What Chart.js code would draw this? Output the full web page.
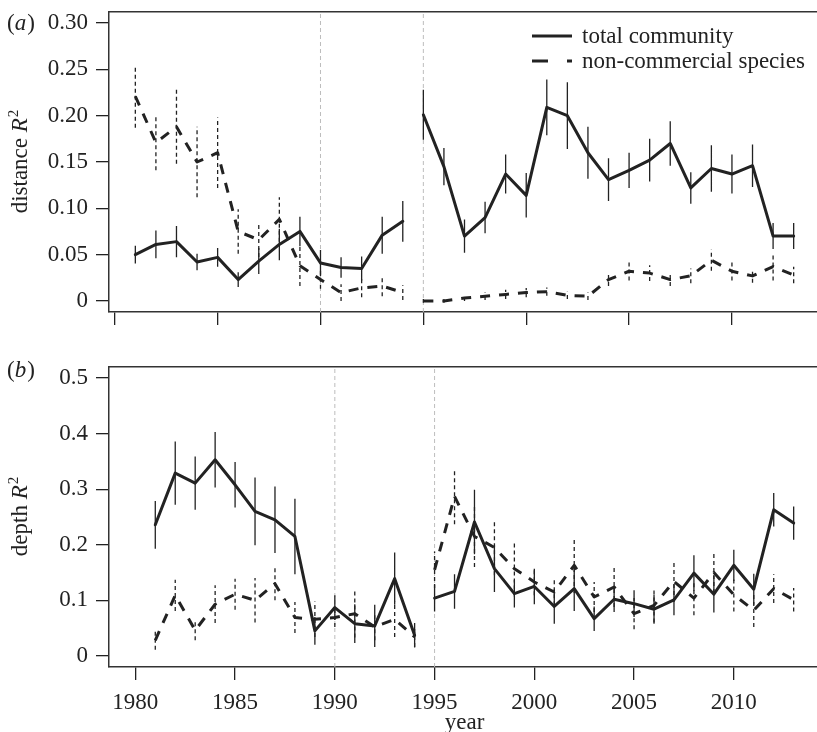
<!DOCTYPE html>
<html>
<head>
<meta charset="utf-8">
<script src="https://cdn.jsdelivr.net/npm/chart.js@4.4.1/dist/chart.umd.min.js"></script>
<style>
  html, body { margin: 0; padding: 0; background: #fff; overflow: hidden; width: 817px; height: 732px; }
  #cA { position: absolute; left: 0; top: 0; }
  #cB { position: absolute; left: 0; top: 340px; }
</style>
</head>
<body>
<canvas id="cA" width="820" height="326"></canvas>
<canvas id="cB" width="820" height="394"></canvas>
<script>
// ---------------- data ----------------
const years = [1981,1982,1983,1984,1985,1986,1987,1988,1989,1990,1991,1992,1993,1994,
               1995,1996,1997,1998,1999,2000,2001,2002,2003,2004,2005,2006,2007,2008,2009,2010,2011,2012,2013];
const breakYear = 1995;          // series are not joined across this year
const refYears = [1990, 1995];   // grey dashed reference lines
const seriesLabels = ['total community', 'non-commercial species'];
const xTitle = 'year';

// (a) distance R^2
const distTotal    = [0.050,0.061,0.064,0.042,0.047,0.023,0.043,0.061,0.075,0.041,0.036,0.035,0.071,0.086,
                      0.201,0.145,0.070,0.090,0.137,0.114,0.209,0.200,0.160,0.131,0.141,0.152,0.170,0.122,0.143,0.137,0.146,0.070,0.070];
const distTotalErr = [0.0095,0.015,0.017,0.009,0.010,0.008,0.014,0.017,0.016,0.014,0.011,0.013,0.020,0.022,
                      0.027,0.020,0.018,0.017,0.021,0.024,0.030,0.036,0.028,0.023,0.019,0.023,0.024,0.017,0.025,0.021,0.023,0.014,0.014];
const distNonCom    = [0.221,0.171,0.188,0.150,0.160,0.075,0.066,0.088,0.038,0.023,0.009,0.014,0.016,0.009,
                       0.000,0.000,0.003,0.005,0.007,0.009,0.010,0.006,0.005,0.023,0.032,0.030,0.023,0.027,0.044,0.032,0.027,0.037,0.028];
const distNonComErr = [0.034,0.030,0.040,0.038,0.038,0.024,0.0185,0.024,0.022,0.010,0.009,0.010,0.011,0.008,
                       0.002,0.002,0.003,0.004,0.005,0.005,0.0045,0.004,0.004,0.007,0.010,0.0085,0.007,0.008,0.0115,0.010,0.0075,0.015,0.009];

// (b) depth R^2
const depthTotal    = [0.236,0.329,0.311,0.353,0.308,0.260,0.245,0.215,0.045,0.087,0.058,0.054,0.139,0.037,
                       0.104,0.116,0.241,0.157,0.112,0.125,0.089,0.121,0.067,0.102,0.094,0.084,0.101,0.149,0.111,0.163,0.120,0.263,0.239];
const depthTotalErr = [0.043,0.057,0.048,0.050,0.041,0.061,0.060,0.068,0.025,0.022,0.035,0.038,0.047,0.022,
                       0.024,0.031,0.058,0.042,0.025,0.032,0.031,0.040,0.022,0.023,0.024,0.026,0.028,0.032,0.033,0.028,0.028,0.030,0.030];
const depthNonCom    = [0.028,0.109,0.046,0.093,0.111,0.100,0.130,0.069,0.066,0.069,0.076,0.052,0.066,0.034,
                        0.155,0.287,0.215,0.195,0.157,0.133,0.115,0.163,0.106,0.124,0.076,0.091,0.134,0.104,0.150,0.110,0.082,0.121,0.101];
const depthNonComErr = [0.017,0.028,0.018,0.034,0.028,0.040,0.030,0.028,0.032,0.017,0.043,0.024,0.032,0.018,
                        0.033,0.050,0.055,0.050,0.050,0.024,0.024,0.050,0.027,0.036,0.028,0.031,0.037,0.031,0.037,0.030,0.030,0.026,0.021];

// tick values and labels
const xTickValues = [1980,1985,1990,1995,2000,2005,2010];
const yTicksA = [0,0.05,0.10,0.15,0.20,0.25,0.30];
const yTickLabelsA = ['0','0.05','0.10','0.15','0.20','0.25','0.30'];
const yTicksB = [0,0.1,0.2,0.3,0.4,0.5];
const yTickLabelsB = ['0','0.1','0.2','0.3','0.4','0.5'];

// ---------------- styling ----------------
const INK = '#222';
const FONT = '"Liberation Serif", "Times New Roman", serif';
const FS = 23;
const DASH_LINE = [10, 9];
const DASH_ERR = [4, 3];
Chart.defaults.font.family = FONT;
Chart.defaults.color = INK;

function periodPoints(vals) {
  const segs = [[], []];
  years.forEach((yr, i) => segs[yr < breakYear ? 0 : 1].push({x: yr, y: vals[i]}));
  return segs;
}
function errPoints(vals, errs) {
  const out = [];
  years.forEach((yr, i) => {
    out.push({x: yr, y: vals[i] - errs[i]}, {x: yr, y: vals[i] + errs[i]}, {x: yr, y: null});
  });
  return out;
}
function refPoints(ymin, ymax) {
  const out = [];
  refYears.forEach(r => out.push({x: r, y: ymin}, {x: r, y: ymax}, {x: r, y: null}));
  return out;
}

function buildDatasets(total, totalErr, nonCom, nonComErr, ymin, ymax) {
  const ds = [];
  const base = {pointRadius: 0, pointHoverRadius: 0, tension: 0, fill: false, spanGaps: false};
  periodPoints(total).forEach(seg => ds.push(Object.assign({}, base, {
    label: seriesLabels[0], data: seg, borderColor: INK, borderWidth: 3,
    borderCapStyle: 'round', borderJoinStyle: 'round'})));
  periodPoints(nonCom).forEach(seg => ds.push(Object.assign({}, base, {
    label: seriesLabels[1], data: seg, borderColor: INK, borderWidth: 3, borderDash: DASH_LINE,
    borderCapStyle: 'butt', borderJoinStyle: 'round'})));
  ds.push(Object.assign({}, base, {label: 'err total', data: errPoints(total, totalErr),
    borderColor: INK, borderWidth: 1.3}));
  ds.push(Object.assign({}, base, {label: 'err noncom', data: errPoints(nonCom, nonComErr),
    borderColor: INK, borderWidth: 1.3, borderDash: DASH_ERR}));
  ds.push(Object.assign({}, base, {label: 'ref', data: refPoints(ymin, ymax),
    borderColor: '#bdbdbd', borderWidth: 1, borderDash: [4, 3]}));
  return ds;
}

// text plugin: panel tag, y-axis title with italic R and superscript 2, legend
const textPlugin = {
  id: 'panelText',
  afterDraw(chart, args, o) {
    const ctx = chart.ctx, ca = chart.chartArea;
    ctx.save();
    ctx.fillStyle = INK;
    ctx.textBaseline = 'alphabetic';
    const fN = FS + 'px ' + FONT, fI = 'italic ' + FS + 'px ' + FONT;
    let x = o.tagX;
    ctx.textAlign = 'left';
    ctx.font = fN; ctx.fillText('(', x, o.tagY); x += ctx.measureText('(').width;
    ctx.font = fI; ctx.fillText(o.tag, x, o.tagY); x += ctx.measureText(o.tag).width + 1;
    ctx.font = fN; ctx.fillText(')', x, o.tagY);
    // y title
    const parts = [
      {t: o.yTitle + ' ', f: fN, dy: 0},
      {t: 'R', f: fI, dy: 0},
      {t: '2', f: '15px ' + FONT, dy: -9}
    ];
    let total = 0;
    parts.forEach(p => { ctx.font = p.f; p.w = ctx.measureText(p.t).width; total += p.w; });
    ctx.translate(o.yTitleX, (ca.top + ca.bottom) / 2);
    ctx.rotate(-Math.PI / 2);
    let px = -total / 2;
    parts.forEach(p => { ctx.font = p.f; ctx.fillText(p.t, px, p.dy); px += p.w + (p.t === 'R' ? 1 : 0); });
    ctx.setTransform(1, 0, 0, 1, 0, 0);
    // legend
    if (o.legend) {
      const dsSolid = chart.data.datasets.find(d => d.label === seriesLabels[0]);
      const dsDash = chart.data.datasets.find(d => d.label === seriesLabels[1]);
      [[dsSolid, []], [dsDash, [16, 19]]].forEach((item, i) => {
        const ds = item[0];
        const y = o.legend.y0 + i * o.legend.dy;
        ctx.strokeStyle = ds.borderColor;
        ctx.lineWidth = ds.borderWidth;
        ctx.lineCap = 'butt';
        ctx.setLineDash(item[1]);
        ctx.beginPath();
        ctx.moveTo(o.legend.x0, y);
        ctx.lineTo(o.legend.x0 + 40, y);
        ctx.stroke();
        ctx.setLineDash([]);
        ctx.font = fN;
        ctx.textAlign = 'left';
        ctx.fillText(ds.label, o.legend.x0 + 50, y + 7);
      });
    }
    ctx.restore();
  }
};

function axisCommon() {
  return {
    grid: {display: true, drawOnChartArea: false, drawTicks: true, tickLength: 13, color: INK, lineWidth: 1.3},
    border: {display: true, color: '#333', width: 1.5}
  };
}
function zeroPad(s) { s.paddingTop = 0; s.paddingBottom = 0; s.paddingLeft = 0; s.paddingRight = 0; }

function makeChart(canvasId, p) {
  const xc = axisCommon(), yc = axisCommon();
  return new Chart(document.getElementById(canvasId), {
    type: 'line',
    data: {datasets: buildDatasets(p.total, p.totalErr, p.nonCom, p.nonComErr, p.ymin, p.ymax)},
    options: {
      responsive: false,
      animation: false,
      events: [],
      layout: {padding: {top: p.padTop, left: 0, right: 0, bottom: 0}},
      plugins: {
        legend: {display: false},
        tooltip: {enabled: false},
        panelText: {tag: p.tag, tagX: 7, tagY: p.tagY, yTitle: p.yTitle, yTitleX: 27, legend: p.legend}
      },
      scales: {
        x: {
          type: 'linear', position: 'bottom', min: p.xmin, max: p.xmax,
          grid: xc.grid, border: xc.border,
          afterBuildTicks: s => { s.ticks = xTickValues.map(v => ({value: v})); },
          afterFit: s => { s.height = p.xAxisH; zeroPad(s); },
          ticks: {display: p.xLabels, autoSkip: false, maxRotation: 0, padding: 9,
                  font: {size: FS}, color: INK, callback: v => String(v)},
          title: {display: p.xLabels, text: xTitle, font: {size: FS, lineHeight: 1}, color: INK,
                  padding: {top: 0, bottom: 0}}
        },
        xTop: {
          type: 'linear', position: 'top', min: p.xmin, max: p.xmax,
          grid: {display: false, drawTicks: false},
          ticks: {display: false},
          border: {display: true, color: '#333', width: 1.5},
          afterFit: s => { s.height = 0; zeroPad(s); }
        },
        y: {
          type: 'linear', position: 'left', min: p.ymin, max: p.ymax,
          grid: yc.grid, border: yc.border,
          afterBuildTicks: s => { s.ticks = p.yTicks.map(v => ({value: v})); },
          afterFit: s => { s.width = 109; zeroPad(s); },
          ticks: {padding: 8, font: {size: FS}, color: INK,
                  callback: (v, i) => p.yTickLabels[i]}
        }
      }
    },
    plugins: [textPlugin]
  });
}

makeChart('cA', {
  total: distTotal, totalErr: distTotalErr, nonCom: distNonCom, nonComErr: distNonComErr,
  xmin: 1979.72, xmax: 2014.28, ymin: -0.012, ymax: 0.312,
  yTicks: yTicksA, yTickLabels: yTickLabelsA,
  padTop: 12, xAxisH: 14, xLabels: false,
  tag: 'a', tagY: 30, yTitle: 'distance',
  legend: {x0: 532, y0: 36, dy: 25}
});

makeChart('cB', {
  total: depthTotal, totalErr: depthTotalErr, nonCom: depthNonCom, nonComErr: depthNonComErr,
  xmin: 1978.68, xmax: 2014.32, ymin: -0.02, ymax: 0.52,
  yTicks: yTicksB, yTickLabels: yTickLabelsB,
  padTop: 27, xAxisH: 67, xLabels: true,
  tag: 'b', tagY: 37, yTitle: 'depth',
  legend: null
});
</script>
</body>
</html>
